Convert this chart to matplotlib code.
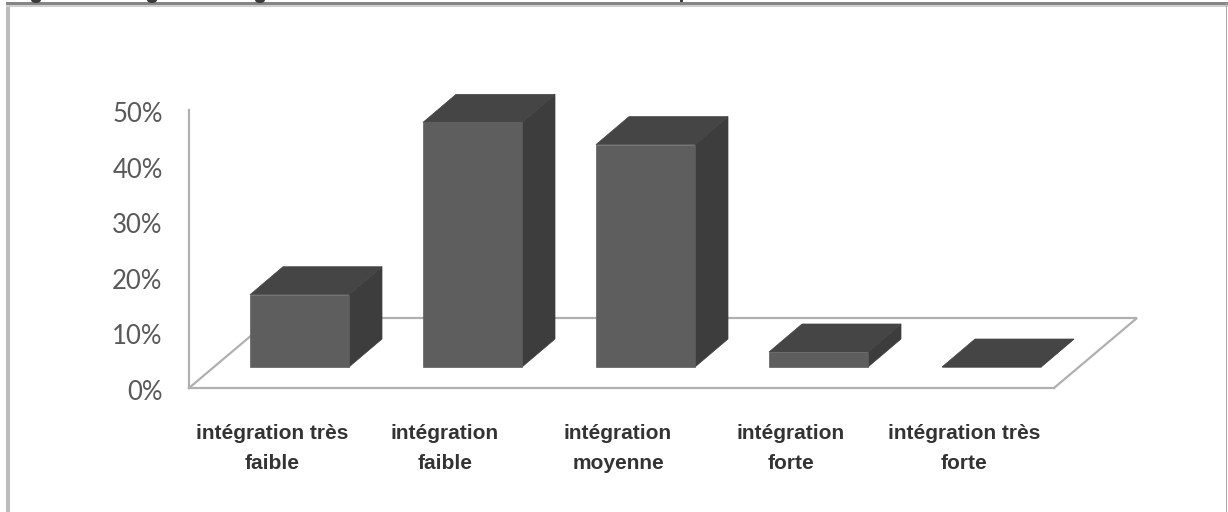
import matplotlib
matplotlib.use("Agg")
import matplotlib.pyplot as plt
from matplotlib.patches import Ellipse, Polygon, Rectangle
from matplotlib.transforms import ScaledTranslation

# Survey results by level of integration
categories = [
    "intégration très\nfaible",
    "intégration\nfaible",
    "intégration\nmoyenne",
    "intégration\nforte",
    "intégration très\nforte",
]
shares = [13, 44, 40, 2.7, 0]
y_ticks = [0, 10, 20, 30, 40, 50]
y_tick_labels = ["0%", "10%", "20%", "30%", "40%", "50%"]

W, H = 1228, 512
DPI = 100
FRONT_COLOR = "#5e5e5e"
TOP_COLOR = "#454545"
SIDE_COLOR = "#3d3d3d"
GRID_COLOR = "#b0b0b0"

fig = plt.figure(figsize=(W / DPI, H / DPI), dpi=DPI, facecolor="white")

# Outer frame of the chart area
frame = fig.add_axes([0, 0, 1, 1], zorder=0)
frame.set_xlim(0, W)
frame.set_ylim(H, 0)
frame.axis("off")
frame.add_patch(Rectangle((6, 3), 4, H, fc="#bcbcbc", ec="none"))
frame.add_patch(Rectangle((6, 2), W - 6, 3, fc="#858585", ec="none"))
frame.add_patch(Rectangle((6, 5), W - 6, 1.5, fc="#cfcfcf", ec="none"))
frame.add_patch(Rectangle((W - 2, 3), 1, H, fc="#a8a8a8", ec="none"))

# Descenders of the caption line running off the top edge
for cx in (36, 152, 260):
    frame.add_patch(Ellipse((cx, 0), 10, 6, fc="#3a3a3a", ec="none"))
frame.add_patch(Rectangle((680, 0), 3, 2, fc="#3a3a3a", ec="none"))

# Plot box: one category is 173 px wide, ten percent is 55.6 px tall
left, right, bottom, top = 189, 1054, 388, 110
ax = fig.add_axes(
    [left / W, 1 - bottom / H, (right - left) / W, (bottom - top) / H],
    facecolor="none",
    zorder=1,
)
ax.set_xlim(-0.5, len(categories) - 0.5)
ax.set_ylim(0, 50)

px_x = (len(categories)) / (right - left)
px_y = 50 / (bottom - top)


def oblique(depth_x, depth_y):
    """Convert a pixel offset of the receding axis to data units."""
    return depth_x * px_x, depth_y * px_y


# Floor of the 3-D scene
fx, fy = oblique(83, 70)
ax.plot(
    [-0.5, -0.5 + fx, 4.5 + fx, 4.5],
    [0, fy, fy, 0],
    color=GRID_COLOR,
    lw=1.6,
    clip_on=False,
    zorder=1,
    solid_joinstyle="miter",
)

# Bars as oblique boxes sitting part way into the floor
bar_width = 99 * px_x
sx, sy = oblique(24, 21)
dx, dy = oblique(33, 28)
for i, value in enumerate(shares):
    x0 = i - bar_width / 2 + sx
    x1 = x0 + bar_width
    y0 = sy
    y1 = sy + value
    faces = [
        ([(x1, y0), (x1 + dx, y0 + dy), (x1 + dx, y1 + dy), (x1, y1)], SIDE_COLOR),
        ([(x0, y1), (x1, y1), (x1 + dx, y1 + dy), (x0 + dx, y1 + dy)], TOP_COLOR),
        ([(x0, y0), (x1, y0), (x1, y1), (x0, y1)], FRONT_COLOR),
    ]
    for points, color in faces:
        ax.add_patch(
            Polygon(points, closed=True, fc=color, ec=color, lw=0.5, clip_on=False, zorder=3)
        )

for side in ("top", "right"):
    ax.spines[side].set_visible(False)
for side in ("left", "bottom"):
    ax.spines[side].set_color(GRID_COLOR)
    ax.spines[side].set_linewidth(1.6)

ax.set_yticks(y_ticks)
ax.set_yticklabels(y_tick_labels, family="Lato", fontsize=18.5, color="#595959")
ax.set_xticks(range(len(categories)))
ax.set_xticklabels(
    categories, family="Liberation Sans", fontweight="bold", fontsize=15,
    color="#333333", linespacing=1.72,
)
ax.tick_params(axis="y", length=0, pad=19)
ax.tick_params(axis="x", length=0, pad=26)

# Nudge the labels off their default anchor points
x_shift = ScaledTranslation(-3.5 / DPI, 0, fig.dpi_scale_trans)
for label in ax.get_xticklabels():
    label.set_transform(label.get_transform() + x_shift)
y_shift = ScaledTranslation(0, -2 / DPI, fig.dpi_scale_trans)
for label in ax.get_yticklabels():
    label.set_transform(label.get_transform() + y_shift)

fig.savefig("out.png", dpi=DPI)
